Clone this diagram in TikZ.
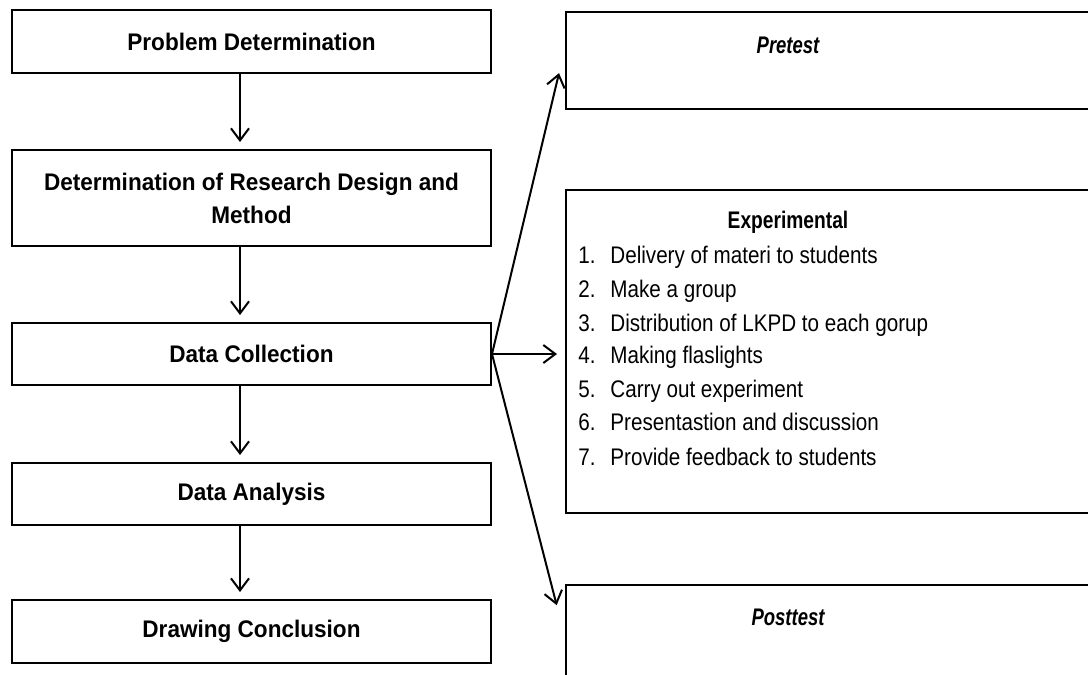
\documentclass[tikz,border=0pt]{standalone}
\usepackage{fontspec}
\setmainfont{Liberation Sans}[FakeStretch=0.86,
  BoldFeatures={FakeStretch=0.8},
  BoldItalicFeatures={FakeStretch=0.77}]
\newfontfamily\stagefont{Liberation Sans}[FakeStretch=0.94]
\usetikzlibrary{arrows.meta}

\tikzset{
  stage/.style={draw,line width=1pt,minimum width=239.5pt,inner sep=0pt,align=center,
    font=\fontsize{12}{16.5}\selectfont\stagefont\bfseries},
  phase/.style={draw,line width=1pt,minimum width=270pt,inner sep=0pt},
  head/.style={font=\fontsize{12}{16.5}\selectfont\bfseries},
  item/.style={anchor=west,inner sep=0pt,text height=8.6pt,text depth=2.6pt,
    font=\fontsize{12}{16.5}\selectfont},
  flow/.style={-{Straight Barb[length=6pt,width=9pt]},line width=1pt,shorten >=3.5pt}
}

\begin{document}
\begin{tikzpicture}[x=0.5pt,y=-0.5pt]
      \clip (0,0) rectangle (1088,675);

      % left column
      \node (pd) at (251.5,41.5) [stage,minimum height=31.5pt] {Problem Determination};
      \node (rd) at (251.5,198) [stage,minimum height=48pt] {Determination of Research Design and\\Method};
      \node (dc) at (251.5,354) [stage,minimum height=31pt] {Data Collection};
      \node (da) at (251.5,494) [stage,minimum height=31pt] {Data Analysis};
      \node (cl) at (251.5,631.5) [stage,minimum height=31.5pt] {Drawing Conclusion};

      % right column
      \node (pre) at (836,60.5) [phase,minimum height=48.5pt] {};
      \node (exp) at (836,351.5) [phase,minimum height=161.5pt] {};
      \node (post) at (836,637.5) [phase,minimum height=52.5pt] {};
      \draw (788,45) node (pret) [head] {\itshape Pretest};
      \draw (788,222) node (expt) [head] {Experimental};
      \draw (788,617) node (postt) [head] {\itshape Posttest};

      \node (n1) at (578,257) [item] {1.};  \node (i1) at (610,257) [item] {Delivery of materi to students};
      \node (n2) at (578,291) [item] {2.};  \node (i2) at (610,291) [item] {Make a group};
      \node (n3) at (578,325) [item] {3.};  \node (i3) at (610,325) [item] {Distribution of LKPD to each gorup};
      \node (n4) at (578,357) [item] {4.};  \node (i4) at (610,357) [item] {Making flaslights};
      \node (n5) at (578,391) [item] {5.};  \node (i5) at (610,391) [item] {Carry out experiment};
      \node (n6) at (578,424) [item] {6.};  \node (i6) at (610,424) [item] {Presentastion and discussion};
      \node (n7) at (578,459) [item] {7.};  \node (i7) at (610,459) [item] {Provide feedback to students};

      % arrows
      \path[flow] ([xshift=-5.75pt]pd.south) edge ([xshift=-5.75pt]rd.north);
      \path[flow] ([xshift=-5.75pt]rd.south) edge ([xshift=-5.75pt]dc.north);
      \path[flow] ([xshift=-5.75pt]dc.south) edge ([xshift=-5.75pt]da.north);
      \path[flow] ([xshift=-5.75pt]da.south) edge ([xshift=-5.75pt]cl.north);

      \path[flow] (dc.east) edge[shorten >=12.9pt] ([yshift=6.25pt]pre.west);
      \path[flow] (dc.east) edge[shorten >=4pt] (dc.east -| exp.west);
      \path[flow] (dc.east) edge[shorten >=16.7pt] (post.west);

    \end{tikzpicture}
\end{document}
